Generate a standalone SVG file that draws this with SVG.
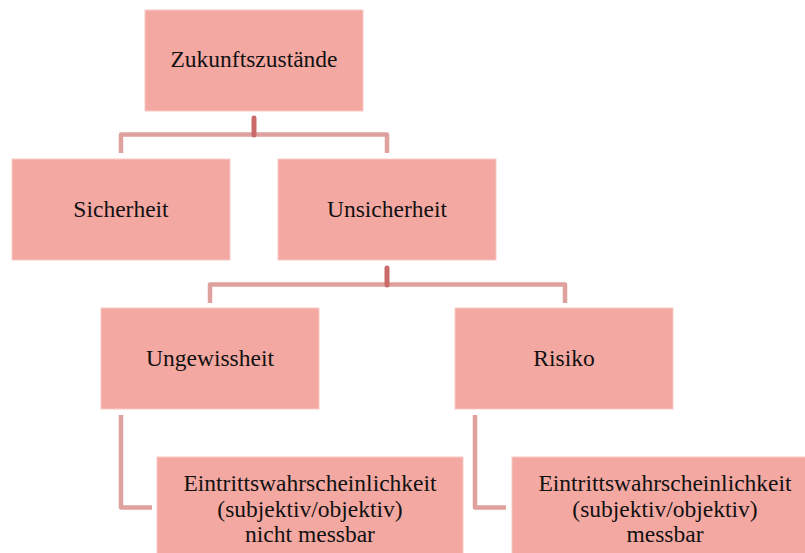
<svg xmlns="http://www.w3.org/2000/svg" width="805" height="553" viewBox="0 0 805 553">
<style>
.box{fill:#f4a8a2;stroke:#f7c9c5;stroke-width:1}
.t{font-family:"Liberation Serif","Times New Roman",serif;font-size:23.5px;fill:#111;text-anchor:middle}
.c{fill:none;stroke:#dfa19e;stroke-width:4.5;stroke-linejoin:round;stroke-linecap:butt}
.s{fill:none;stroke:#c96c69;stroke-width:5;stroke-linecap:round}
</style>
<rect width="805" height="553" fill="#ffffff"/>
<g id="connectors">
<path class="c" d="M121,153 V134.5 H387 V153"/>
<path class="s" d="M254,118 V135"/>
<path class="c" d="M210,303 V284.5 H565 V303"/>
<path class="s" d="M387,268 V285"/>
<path class="c" d="M121,415 V507.5 H152"/>
<path class="c" d="M475,415 V507.5 H506"/>
</g>
<g id="zukunftszustaende">
<rect class="box" x="145" y="10" width="218" height="101"/>
<text class="t" x="254" y="67">Zukunftszustände</text>
</g>
<g id="sicherheit">
<rect class="box" x="12" y="159" width="218" height="101"/>
<text class="t" x="121" y="217">Sicherheit</text>
</g>
<g id="unsicherheit">
<rect class="box" x="278" y="159" width="218" height="101"/>
<text class="t" x="387" y="217">Unsicherheit</text>
</g>
<g id="ungewissheit">
<rect class="box" x="101" y="308" width="218" height="101"/>
<text class="t" x="210" y="366">Ungewissheit</text>
</g>
<g id="risiko">
<rect class="box" x="455" y="308" width="218" height="101"/>
<text class="t" x="564" y="366">Risiko</text>
</g>
<g id="nicht-messbar">
<rect class="box" x="157" y="457" width="306" height="110"/>
<text class="t" x="310" y="491">Eintrittswahrscheinlichkeit</text>
<text class="t" x="310" y="516.5">(subjektiv/objektiv)</text>
<text class="t" x="310" y="542">nicht messbar</text>
</g>
<g id="messbar">
<rect class="box" x="512" y="457" width="306" height="110"/>
<text class="t" x="665" y="491">Eintrittswahrscheinlichkeit</text>
<text class="t" x="665" y="516.5">(subjektiv/objektiv)</text>
<text class="t" x="665" y="542">messbar</text>
</g>
</svg>
